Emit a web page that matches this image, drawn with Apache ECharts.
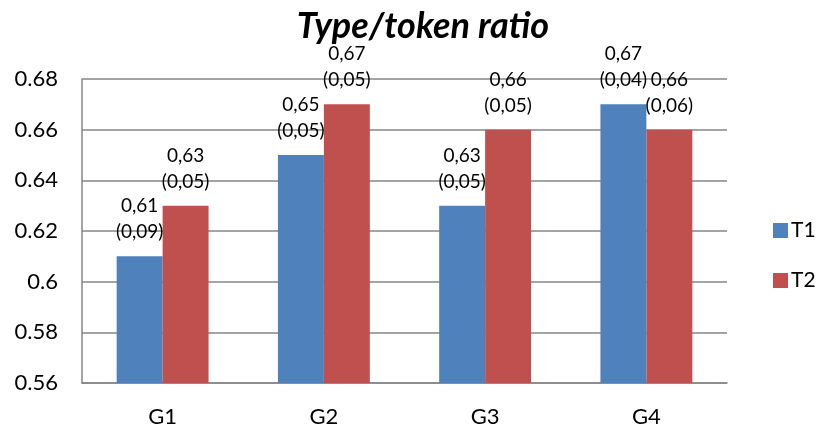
<!DOCTYPE html>
<html>
<head>
<meta charset="utf-8">
<script src="https://cdn.jsdelivr.net/npm/echarts@6/dist/echarts.min.js"></script>
<style>
  html, body { margin: 0; padding: 0; background: #fff; }
  #chart { width: 817px; height: 428px; }
</style>
</head>
<body>
<div id="chart"></div>
<script>
// Groups and the two measurement times
const categories = ['G1', 'G2', 'G3', 'G4'];
const seriesNames = ['T1', 'T2'];
// Mean type/token ratio per group
const t1Values = [0.61, 0.65, 0.63, 0.67];
const t2Values = [0.63, 0.67, 0.66, 0.66];
// Standard deviations shown in brackets
const t1Sd = [0.09, 0.05, 0.05, 0.04];
const t2Sd = [0.05, 0.05, 0.05, 0.06];

const FONT = 'Lato, "Open Sans", sans-serif';
const fmt = v => v.toFixed(2).replace('.', ',');

function labelFor(sd) {
  return {
    show: true,
    position: 'top',
    distance: 11,
    fontFamily: FONT,
    fontSize: 19,
    lineHeight: 26,
    color: '#000',
    formatter: p => fmt(p.value) + '\n(' + fmt(sd[p.dataIndex]) + ')'
  };
}

const chart = echarts.init(document.getElementById('chart'), null, { renderer: 'canvas' });
chart.setOption({
  animation: false,
  title: {
    text: 'Type/token ratio',
    left: 418,
    top: 3,
    textAlign: 'center',
    textStyle: { fontFamily: FONT, fontSize: 36, fontWeight: 'bold', fontStyle: 'italic', color: '#000' }
  },
  legend: {
    orient: 'vertical',
    left: 768,
    top: 215,
    itemWidth: 15,
    itemHeight: 15,
    itemGap: 29,
    icon: 'rect',
    textStyle: { fontFamily: FONT, fontSize: 21, color: '#000', padding: [0, 0, 0, -2] },
    data: seriesNames
  },
  grid: { left: 82, right: 90, top: 79, bottom: 45, containLabel: false },
  xAxis: {
    type: 'category',
    data: categories,
    axisLine: { lineStyle: { color: '#868686', width: 1.5 } },
    axisTick: { show: false },
    axisLabel: { fontFamily: FONT, fontSize: 22, color: '#000', margin: 23 }
  },
  yAxis: {
    type: 'value',
    min: 0.56,
    max: 0.68,
    interval: 0.02,
    axisLine: { show: true, lineStyle: { color: '#868686', width: 1.5 } },
    axisTick: { show: false },
    splitLine: { lineStyle: { color: '#868686', width: 1.5 } },
    axisLabel: { fontFamily: FONT, fontSize: 22, color: '#000', margin: 24 }
  },
  series: [
    {
      name: seriesNames[0],
      type: 'bar',
      data: t1Values,
      barGap: '0%',
      barCategoryGap: '43%',
      itemStyle: { color: '#4F81BD' },
      label: labelFor(t1Sd)
    },
    {
      name: seriesNames[1],
      type: 'bar',
      data: t2Values,
      itemStyle: { color: '#C0504D' },
      label: labelFor(t2Sd)
    }
  ]
});
</script>
</body>
</html>
